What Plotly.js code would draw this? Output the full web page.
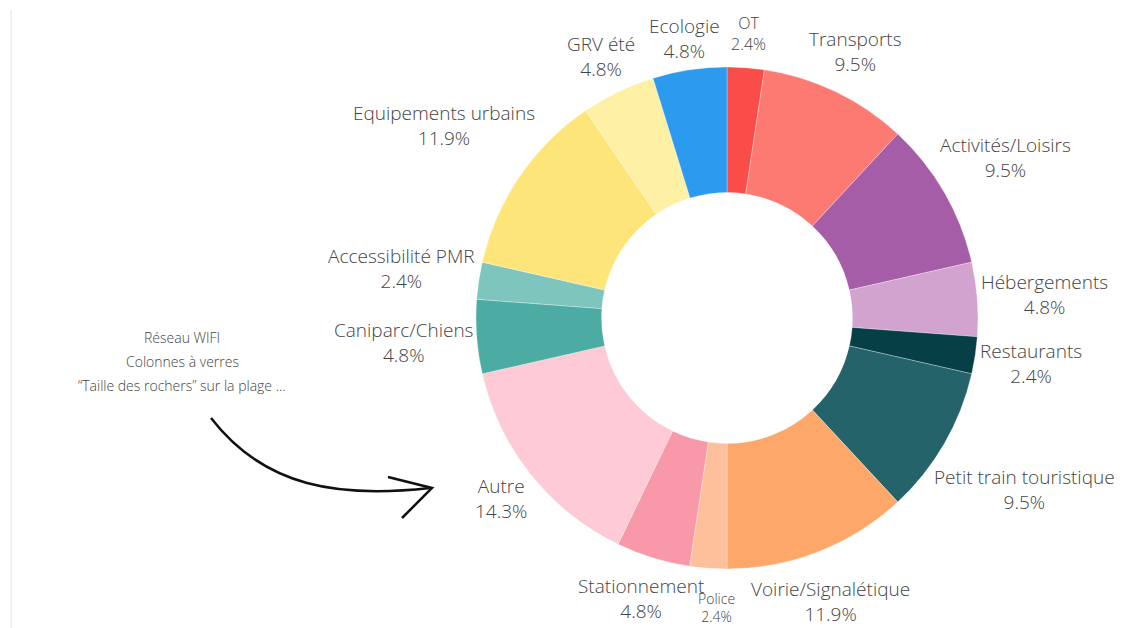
<!DOCTYPE html>
<html>
<head>
<meta charset="utf-8">
<script src="https://cdn.plot.ly/plotly-3.0.1.min.js"></script>
<style>html,body{margin:0;padding:0;background:#fff;}#chart{width:1127px;height:628px;}</style>
</head>
<body>
<div id="chart"></div>
<script>
const categories = ["OT","Transports","Activités/Loisirs","Hébergements","Restaurants","Petit train touristique","Voirie/Signalétique","Police","Stationnement","Autre","Caniparc/Chiens","Accessibilité PMR","Equipements urbains","GRV été","Ecologie"];
const counts = [1,4,4,2,1,4,5,1,2,6,2,1,5,2,2];
const colors = ["#FA4D49","#FD7A72","#A55DA8","#D2A3CF","#063F45","#25636A","#FDA86A","#FDC09A","#F998A8","#FDCAD6","#4CABA3","#7EC5BE","#FEE57A","#FEF1A5","#2C9BEF"];
const labelSizes = [16,19,19,19,19,19,19,14,19,19,19,19,19,19,19];
const labelPads = [12,2,2,2,2,2,2,20,0,2,2,2,2,2,2];
const labelShifts = [0,0,0,0,0,0,-8,11,0,0,0,0,0,0,0];
const noteLines = ["Réseau WIFI","Colonnes à verres","\u201CTaille des rochers\u201D sur la plage ..."];

const W = 1127, H = 628;
const cx = 727, cy = 318, R = 251;
const FONT = 'Open Sans';
const TXT = '#444';

const trace = {
  type: 'pie',
  labels: categories,
  values: counts,
  sort: false,
  direction: 'clockwise',
  rotation: 0,
  hole: 0.5,
  marker: {colors: colors, line: {color: '#ffffff', width: 0.3}},
  textinfo: 'none',
  hoverinfo: 'label+percent',
  showlegend: false,
  automargin: false,
  domain: {x: [(cx - R) / W, (cx + R) / W], y: [(H - cy - R) / H, (H - cy + R) / H]}
};

// outside labels positioned radially from the data (slice mid-angles)
const ctx = document.createElement('canvas').getContext('2d');
const total = counts.reduce((a, b) => a + b, 0);
const annotations = [];
let cum = 0;
counts.forEach((v, i) => {
  const mid = (cum + v / 2) / total * 2 * Math.PI;
  cum += v;
  const pct = (v / total * 100).toFixed(1) + '%';
  const fs = labelSizes[i];
  ctx.font = '300 ' + fs + 'px "' + FONT + '"';
  const w = Math.max(ctx.measureText(categories[i]).width, ctx.measureText(pct).width);
  const h = 2 * 1.3 * fs;
  const s = Math.sin(mid), c = Math.cos(mid);
  const d = R + labelPads[i] + (w / 2) * Math.abs(s) + (h / 2) * Math.abs(c);
  annotations.push({
    xref: 'x', yref: 'y', x: cx + d * s, y: cy - d * c,
    xanchor: 'center', yanchor: 'middle', xshift: labelShifts[i],
    text: categories[i] + '<br>' + pct,
    showarrow: false, align: 'center',
    font: {family: FONT, size: fs, color: TXT, weight: 300}
  });
});
noteLines.forEach((t, k) => {
  annotations.push({
    xref: 'x', yref: 'y', x: 182, y: 337 + k * 24,
    xanchor: 'center', yanchor: 'middle',
    text: t, showarrow: false,
    font: {family: FONT, size: 14, color: TXT, weight: 300}
  });
});

const layout = {
  width: W, height: H,
  margin: {l: 0, r: 0, t: 0, b: 0},
  paper_bgcolor: '#fff', plot_bgcolor: 'rgba(0,0,0,0)',
  font: {family: FONT, color: TXT},
  xaxis: {range: [0, W], visible: false, fixedrange: true},
  yaxis: {range: [H, 0], visible: false, fixedrange: true},
  showlegend: false,
  annotations: annotations,
  shapes: [
    {type: 'line', xref: 'x', yref: 'y', x0: 11, y0: 10, x1: 11, y1: 628, line: {color: '#ececec', width: 1.5}},
    {type: 'path', xref: 'x', yref: 'y', path: 'M 211 418 C 265 488, 340 498, 430 488', line: {color: '#111', width: 2.5}},
    {type: 'path', xref: 'x', yref: 'y', path: 'M 388 477 L 432 488 L 402 518', line: {color: '#111', width: 2.5}}
  ]
};

Plotly.newPlot('chart', [trace], layout, {displayModeBar: false, staticPlot: true});
</script>
</body>
</html>
